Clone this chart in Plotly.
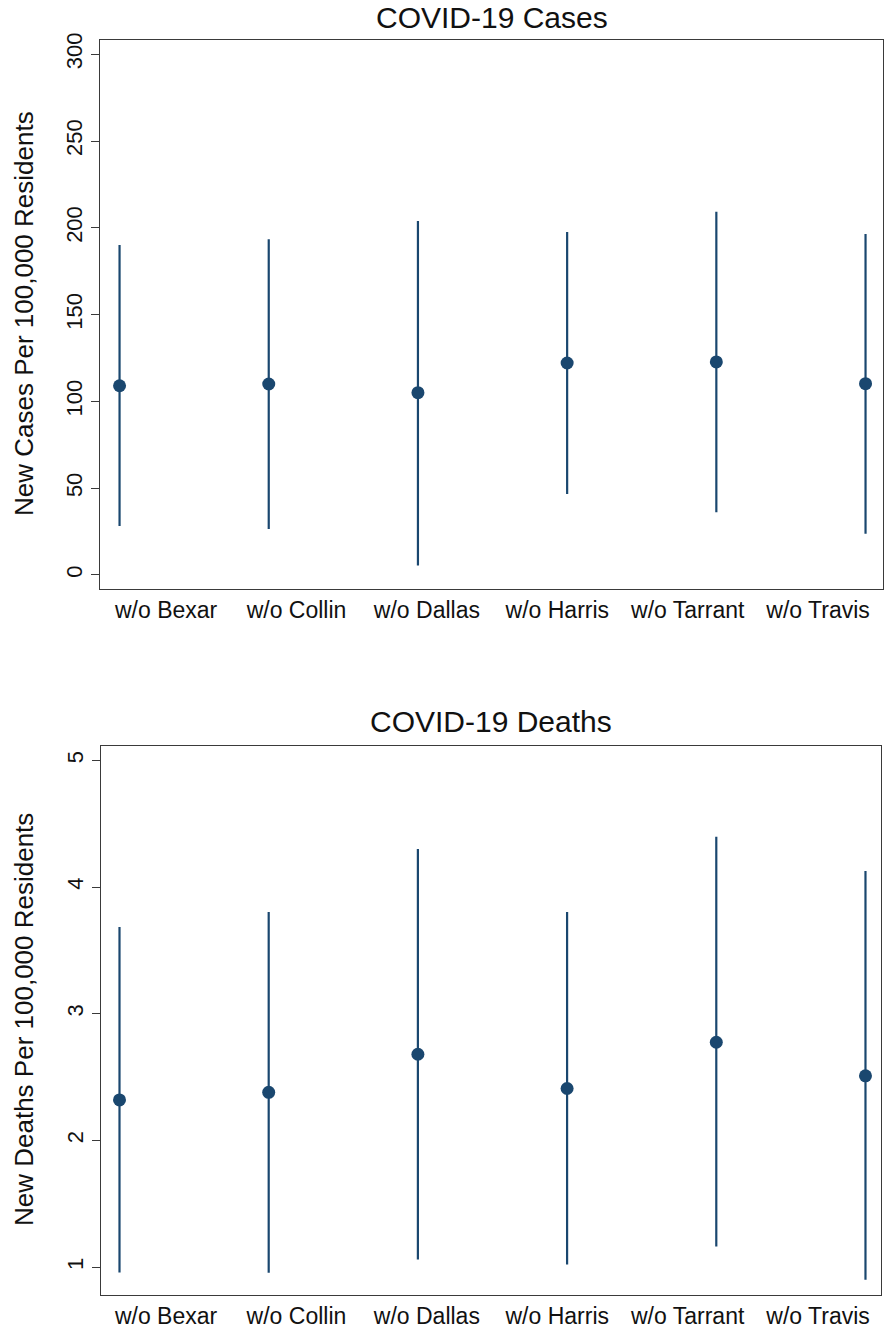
import plotly.graph_objects as go

categories = ["w/o Bexar", "w/o Collin", "w/o Dallas", "w/o Harris", "w/o Tarrant", "w/o Travis"]

cases_mean = [109.0, 110.0, 105.0, 122.1, 122.7, 110.2]
cases_low = [28.2, 26.5, 5.4, 46.7, 36.1, 23.8]
cases_high = [190.1, 193.4, 203.9, 197.6, 209.3, 196.4]

deaths_mean = [2.32, 2.38, 2.68, 2.41, 2.775, 2.51]
deaths_low = [0.957, 0.955, 1.06, 1.02, 1.163, 0.90]
deaths_high = [3.685, 3.803, 4.30, 3.803, 4.397, 4.127]

cases_ticks = [0, 50, 100, 150, 200, 250, 300]
deaths_ticks = [1, 2, 3, 4, 5]

NAVY = "#1a476f"
FRAME = "#3a3a3a"
FONT = "Liberation Sans, Arial, sans-serif"
TXT = "#111111"

xpos = list(range(len(categories)))
# category labels are spread evenly under the frame (Stata-style), not exactly under the markers
label_pos = [0.312 + 0.874 * i for i in xpos]

fig = go.Figure()


def add_panel(mean, low, high, xa, ya):
    fig.add_trace(go.Scatter(
        x=xpos, y=mean, mode="markers",
        marker=dict(color=NAVY, size=13, line=dict(width=0)),
        error_y=dict(type="data", symmetric=False,
                     array=[h - m for h, m in zip(high, mean)],
                     arrayminus=[m - l for m, l in zip(mean, low)],
                     color=NAVY, thickness=2.2, width=0),
        xaxis=xa, yaxis=ya, showlegend=False, hoverinfo="skip"))


add_panel(cases_mean, cases_low, cases_high, "x", "y")
add_panel(deaths_mean, deaths_low, deaths_high, "x2", "y2")

H = 1332.0
W = 886.0

axis_common = dict(showline=True, linecolor=FRAME, linewidth=1.3, mirror=True,
                   showgrid=False, zeroline=False, automargin=False)

xcommon = dict(tickmode="array", tickvals=label_pos, ticktext=categories, ticks="",
               tickfont=dict(size=23, family=FONT, color=TXT), **axis_common)
ycommon = dict(tickmode="array", ticks="outside", ticklen=8,
               tickcolor=FRAME, tickwidth=1.2, tickangle=-90,
               tickfont=dict(size=22, family=FONT, color=TXT), **axis_common)

fig.update_layout(
    width=886, height=1332,
    margin=dict(l=0, r=0, t=0, b=0),
    paper_bgcolor="white", plot_bgcolor="white",
    font=dict(family=FONT, color=TXT),
    xaxis=dict(domain=[100 / W, 883 / W], range=[-0.131, 5.117], anchor="y", **xcommon),
    yaxis=dict(domain=[(H - 589) / H, (H - 40) / H], range=[-8.1, 308.2], anchor="x",
               tickvals=cases_ticks, **ycommon),
    xaxis2=dict(domain=[101 / W, 881 / W], range=[-0.124, 5.104], anchor="y2", **xcommon),
    yaxis2=dict(domain=[(H - 1295) / H, (H - 746) / H], range=[0.78, 5.113], anchor="x2",
                tickvals=deaths_ticks, **ycommon),
    annotations=[
        dict(text="COVID-19 Cases", x=(100 + 883) / 2 / W, y=(H - 17) / H,
             xref="paper", yref="paper", showarrow=False, xanchor="center", yanchor="middle",
             font=dict(size=30, family=FONT, color=TXT)),
        dict(text="COVID-19 Deaths", x=(101 + 881) / 2 / W, y=(H - 722) / H,
             xref="paper", yref="paper", showarrow=False, xanchor="center", yanchor="middle",
             font=dict(size=30, family=FONT, color=TXT)),
        dict(text="New Cases Per 100,000 Residents", x=24 / W, y=(H - 314) / H,
             xref="paper", yref="paper", showarrow=False, xanchor="center", yanchor="middle",
             textangle=-90, font=dict(size=26, family=FONT, color=TXT)),
        dict(text="New Deaths Per 100,000 Residents", x=24 / W, y=(H - 1020) / H,
             xref="paper", yref="paper", showarrow=False, xanchor="center", yanchor="middle",
             textangle=-90, font=dict(size=26, family=FONT, color=TXT)),
    ],
)

fig.write_html("out.html")
